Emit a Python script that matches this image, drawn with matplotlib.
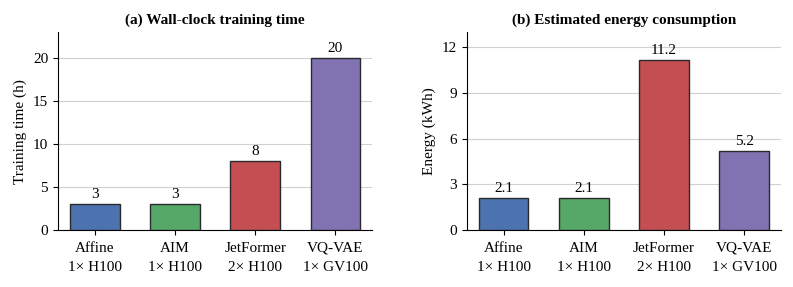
import matplotlib
matplotlib.use('Agg')
import matplotlib.pyplot as plt

plt.rcParams['font.family'] = ['Liberation Serif', 'DejaVu Serif']
plt.rcParams['mathtext.fontset'] = 'stix'

models = ['Affine', 'AIM', 'JetFormer', 'VQ-VAE']
gpus = ['1\u00d7 H100', '1\u00d7 H100', '2\u00d7 H100', '1\u00d7 GV100']
train_hours = [3, 3, 8, 20]
energy_kwh = [2.1, 2.1, 11.2, 5.2]
colors = ['#4C72B0', '#55A868', '#C44E52', '#8172B2']

labels = [m + '\n' + g for m, g in zip(models, gpus)]

fig, axes = plt.subplots(1, 2, figsize=(7.93, 2.87), dpi=100)
fig.subplots_adjust(left=0.073, right=0.985, top=0.888, bottom=0.198, wspace=0.3)

panels = [
    (axes[0], train_hours, '(a) Wall-clock training time', 'Training time (h)',
     [0, 5, 10, 15, 20], 23, '{:g}'),
    (axes[1], energy_kwh, '(b) Estimated energy consumption', 'Energy (kWh)',
     [0, 3, 6, 9, 12], 13, '{:.1f}'),
]

for ax, vals, title, ylabel, yticks, ytop, fmt in panels:
    x = range(len(vals))
    ax.bar(x, vals, width=0.62, color=colors, edgecolor='#2a2a2a', linewidth=1.0, zorder=3)
    for xi, v in zip(x, vals):
        ax.text(xi, v + ytop * 0.015, fmt.format(v), ha='center', va='bottom', fontsize=11)
    ax.set_xticks(list(x))
    ax.set_xticklabels(labels, fontsize=11, linespacing=1.6)
    ax.tick_params(axis='x', pad=5)
    ax.set_yticks(yticks)
    ax.tick_params(axis='y', labelsize=11)
    ax.set_ylim(0, ytop)
    ax.set_xlim(-0.46, 3.46)
    ax.set_ylabel(ylabel, fontsize=11)
    ax.set_title(title, fontsize=11, fontweight='bold')
    ax.grid(axis='y', color='#d0d0d0', linewidth=0.8, zorder=0)
    ax.spines['top'].set_visible(False)
    ax.spines['right'].set_visible(False)

fig.savefig('out.png', dpi=100)
